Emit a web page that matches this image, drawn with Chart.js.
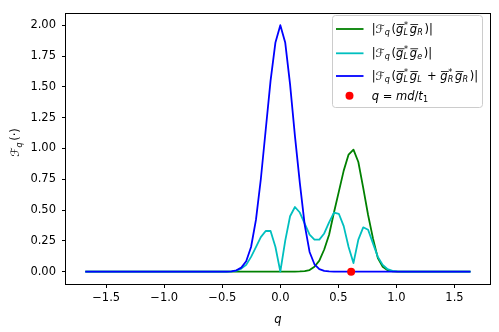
<!DOCTYPE html>
<html><head><meta charset="utf-8">
<script src="https://cdn.jsdelivr.net/npm/chart.js@4/dist/chart.umd.min.js"></script>
<style>html,body{margin:0;padding:0;background:#fff}#wrap{width:499px;height:332px;position:relative}</style>
</head><body><div id="wrap"><canvas id="c" width="499" height="332"></canvas></div>
<script>
// ---- data ----
const qValues = [
 -1.680,-1.638,-1.596,-1.554,-1.512,-1.470,-1.428,-1.386,-1.344,-1.302,
 -1.260,-1.218,-1.176,-1.134,-1.092,-1.050,-1.008,-0.966,-0.924,-0.882,
 -0.840,-0.798,-0.756,-0.714,-0.672,-0.630,-0.588,-0.546,-0.504,-0.462,
 -0.420,-0.378,-0.336,-0.294,-0.252,-0.210,-0.168,-0.126,-0.084,-0.042,
  0.000, 0.042, 0.084, 0.126, 0.168, 0.210, 0.252, 0.294, 0.336, 0.378,
  0.420, 0.462, 0.504, 0.546, 0.588, 0.630, 0.672, 0.714, 0.756, 0.798,
  0.840, 0.882, 0.924, 0.966, 1.008, 1.050, 1.092, 1.134, 1.176, 1.218,
  1.260, 1.302, 1.344, 1.386, 1.428, 1.470, 1.512, 1.554, 1.596, 1.638];
const greenVals = [
 0,0,0,0,0,0,0,0,0,0,
 0,0,0,0,0,0,0,0,0,0,
 0,0,0,0,0,0,0,0,0,0,
 0,0,0,0,0,0,0,0,0,0,
 0,0,0.0005,0.001,0.002,0.005,0.013,0.04,0.09,0.18,
 0.30,0.48,0.65,0.82,0.95,0.99,0.89,0.68,0.46,0.27,
 0.11,0.04,0.012,0.003,0.001,0,0,0,0,0,
 0,0,0,0,0,0,0,0,0,0];
const cyanVals = [
 0,0,0,0,0,0,0,0,0,0,
 0,0,0,0,0,0,0,0,0,0,
 0,0,0,0,0,0,0,0,0,0,
 0.002,0.008,0.025,0.055,0.12,0.20,0.28,0.33,0.33,0.20,
 0.00,0.25,0.45,0.525,0.48,0.39,0.30,0.26,0.26,0.31,
 0.40,0.48,0.47,0.37,0.20,0.07,0.26,0.36,0.34,0.23,
 0.12,0.055,0.02,0.006,0.002,0,0,0,0,0,
 0,0,0,0,0,0,0,0,0,0];
const blueVals = [
 0,0,0,0,0,0,0,0,0,0,
 0,0,0,0,0,0,0,0,0,0,
 0,0,0,0,0,0,0,0,0,0.001,
 0.003,0.011,0.033,0.085,0.20,0.42,0.75,1.15,1.55,1.86,
 2.00,1.86,1.52,1.10,0.72,0.38,0.16,0.06,0.02,0.006,
 0.002,0.001,0,0,0,0,0,0,0,0,
 0,0,0,0,0,0,0,0,0,0,
 0,0,0,0,0,0,0,0,0,0];
const markerQ = [0.61];
const markerVal = [0];
const xTicks = [-1.5,-1.0,-0.5,0.0,0.5,1.0,1.5];
const yTicks = [0,0.25,0.5,0.75,1.0,1.25,1.5,1.75,2.0];
const xTitle = 'q';
// rich-text labels (tokens)
const G = (sub, star) => ({t:'g', it:true, ov:true, sub:sub, sup: star ? '*' : null});
const F = {t:'\u2131', sub:'q'};
const legendEntries = [
  {kind:'line', color:'#008000', tokens:[{t:'|'},F,{t:'('},G('L',true),G('R'),{t:')|'}]},
  {kind:'line', color:'#00bfbf', tokens:[{t:'|'},F,{t:'('},G('L',true),G('e'),{t:')|'}]},
  {kind:'line', color:'#0000ff', tokens:[{t:'|'},F,{t:'('},G('L',true),G('L'),{t:' + '},G('R',true),G('R'),{t:')|'}]},
  {kind:'dot',  color:'#ff0000', tokens:[{t:'q',it:true},{t:' = '},{t:'md',it:true},{t:'/'},{t:'t',it:true,sub:'1',subUp:true}]}
];
const yTitleTokens = [F,{t:'(\u00b7)'}];

// ---- drawing helpers ----
const FAM = '"DejaVu Sans"';
const FS = 11.5;
function fontStr(it, size){ return (it?'italic ':'') + size + 'px ' + FAM; }
function rich(ctx, tokens, x0, y0, fs, draw){
  let x = x0;
  const ss = fs*0.7;
  for (const tk of tokens){
    ctx.font = fontStr(tk.it, fs);
    const w = ctx.measureText(tk.t).width;
    if (draw) ctx.fillText(tk.t, x, y0);
    if (draw && tk.ov){ ctx.fillRect(x + 0.06*fs, y0 - 0.74*fs, w + 0.04*fs, Math.max(0.8, 0.065*fs)); }
    let sw = 0;
    const shift = tk.it ? 0.06*fs : 0;
    if (tk.sup){
      ctx.font = fontStr(false, ss);
      const ww = ctx.measureText(tk.sup).width;
      if (draw) ctx.fillText(tk.sup, x + w + shift, y0 - 0.42*fs);
      sw = Math.max(sw, ww + shift);
    }
    if (tk.sub){
      ctx.font = fontStr(!tk.subUp, ss);
      const ww = ctx.measureText(tk.sub).width;
      if (draw) ctx.fillText(tk.sub, x + w + 0.02*fs, y0 + 0.22*fs);
      sw = Math.max(sw, ww + 0.02*fs);
    }
    x += w + sw + (sw ? 0.14*fs : 0);
  }
  return x - x0;
}

const framePlugin = {
  id: 'frame',
  afterDatasetsDraw(chart){
    const {ctx, chartArea:a} = chart;
    ctx.save();
    ctx.strokeStyle = '#000'; ctx.lineWidth = 1;
    ctx.strokeRect(Math.round(a.left)-0.5, Math.round(a.top)+0.5, Math.round(a.right)-Math.round(a.left)+1, Math.round(a.bottom)-Math.round(a.top));
    ctx.restore();
  },
  afterDraw(chart){
    const ctx = chart.ctx;
    // y title
    ctx.save();
    ctx.fillStyle = '#000'; ctx.textBaseline = 'alphabetic'; ctx.textAlign = 'left';
    ctx.translate(15.5, 142.5); ctx.rotate(-Math.PI/2);
    const w = rich(ctx, yTitleTokens, 0, 0, FS, false);
    rich(ctx, yTitleTokens, -w/2, 0.32*FS, FS, true);
    ctx.restore();
    // legend
    ctx.save();
    const bx = 332.5, by = 15.5, bw = 150, bh = 92, r = 3;
    ctx.beginPath();
    ctx.moveTo(bx+r, by); ctx.lineTo(bx+bw-r, by); ctx.arcTo(bx+bw, by, bx+bw, by+r, r);
    ctx.lineTo(bx+bw, by+bh-r); ctx.arcTo(bx+bw, by+bh, bx+bw-r, by+bh, r);
    ctx.lineTo(bx+r, by+bh); ctx.arcTo(bx, by+bh, bx, by+bh-r, r);
    ctx.lineTo(bx, by+r); ctx.arcTo(bx, by, bx+r, by, r); ctx.closePath();
    ctx.fillStyle = 'rgba(255,255,255,0.8)'; ctx.fill();
    ctx.strokeStyle = '#cccccc'; ctx.lineWidth = 1; ctx.stroke();
    const rowsY = [29, 53.3, 76, 95.7];
    legendEntries.forEach((e, i) => {
      const y = rowsY[i];
      if (e.kind === 'line'){
        ctx.strokeStyle = e.color; ctx.lineWidth = 1.8;
        ctx.beginPath(); ctx.moveTo(336, y); ctx.lineTo(363.5, y); ctx.stroke();
      } else {
        ctx.fillStyle = e.color; ctx.beginPath(); ctx.arc(349.5, y, 4, 0, Math.PI*2); ctx.fill();
      }
      ctx.fillStyle = '#000'; ctx.textBaseline = 'alphabetic'; ctx.textAlign = 'left';
      rich(ctx, e.tokens, 371.7, y + (i === 3 ? 3.8 : 3.6), FS, true);
    });
    ctx.restore();
  }
};

function pts(vals){ return qValues.map((q, i) => ({x: q, y: vals[i]})); }
function lineDs(label, vals, color, order){
  return {type:'line', label, data: pts(vals), borderColor: color, backgroundColor: color,
    borderWidth: 1.8, pointRadius: 0, pointHoverRadius: 0, tension: 0, fill: false, order,
    borderJoinStyle: 'round', borderCapStyle: 'butt'};
}
const fmtMinus = s => s.replace('-', '\u2212');

new Chart(document.getElementById('c'), {
  type: 'line',
  data: {
    datasets: [
      {type:'scatter', label:'q = md/t1', data: markerQ.map((q,i)=>({x:q, y:markerVal[i]})),
       backgroundColor:'#ff0000', borderColor:'#ff0000', borderWidth:0, pointRadius:4, order:0, showLine:false},
      lineDs('|F(gL* gL + gR* gR)|', blueVals, '#0000ff', 1),
      lineDs('|F(gL* ge)|', cyanVals, '#00bfbf', 2),
      lineDs('|F(gL* gR)|', greenVals, '#008000', 3)
    ]
  },
  options: {
    responsive: false, animation: false, devicePixelRatio: 1,
    layout: {padding: {left: 0, right: 9, top: 8, bottom: 0}},
    plugins: {legend: {display: false}, tooltip: {enabled: false}},
    scales: {
      x: {
        type: 'linear', min: -1.846, max: 1.806,
        afterBuildTicks: s => { s.ticks = xTicks.map(v => ({value: v})); },
        afterFit: s => { s.height = 48; },
        grid: {drawOnChartArea: false, drawTicks: true, tickLength: 4, tickColor: '#000', tickWidth: 1},
        border: {display: false},
        ticks: {color: '#000', padding: 3, maxRotation: 0, autoSkip: false,
          font: {family: 'DejaVu Sans', size: FS},
          callback: v => fmtMinus(Number(v).toFixed(1))},
        title: {display: true, text: xTitle, color: '#000',
          font: {family: 'DejaVu Sans', size: FS, style: 'italic'}, padding: {top: 0, bottom: 5}}
      },
      y: {
        type: 'linear', min: -0.1, max: 2.1,
        afterBuildTicks: s => { s.ticks = yTicks.map(v => ({value: v})); },
        afterFit: s => { s.width = 66; },
        grid: {drawOnChartArea: false, drawTicks: true, tickLength: 4, tickColor: '#000', tickWidth: 1},
        border: {display: false},
        ticks: {color: '#000', padding: 6, autoSkip: false,
          font: {family: 'DejaVu Sans', size: FS},
          callback: v => fmtMinus(Number(v).toFixed(2))}
      }
    }
  },
  plugins: [framePlugin]
});
</script>
</body></html>
